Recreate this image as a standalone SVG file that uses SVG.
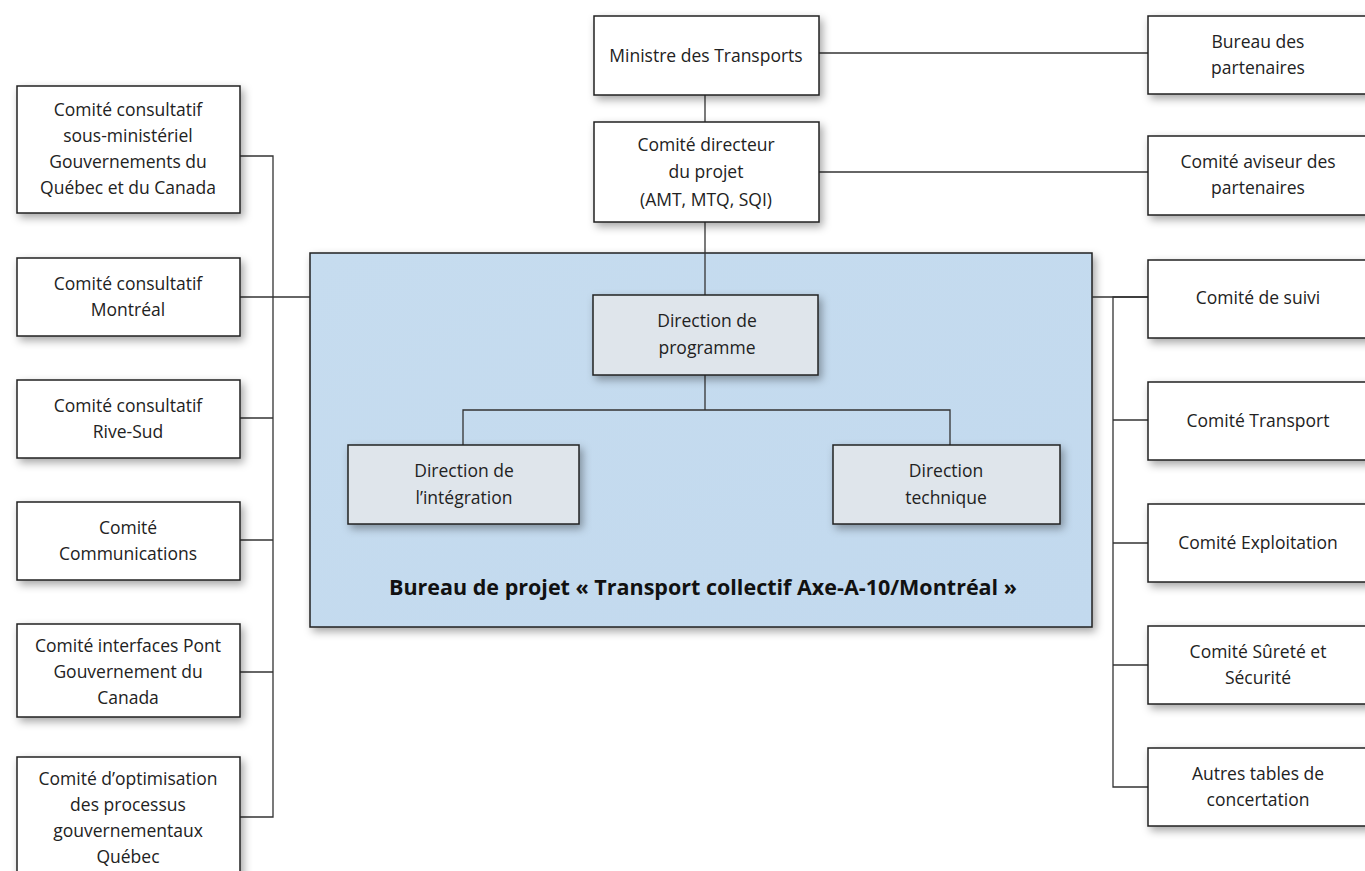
<svg xmlns="http://www.w3.org/2000/svg" width="1365" height="871" viewBox="0 0 1365 871">
<defs>
<filter id="sh" x="-10%" y="-15%" width="125%" height="140%">
<feDropShadow dx="3" dy="4" stdDeviation="4" flood-color="#000" flood-opacity="0.35"/>
</filter>
<linearGradient id="blue" x1="0" y1="0" x2="1" y2="1">
<stop offset="0" stop-color="#c6dcef"/>
<stop offset="1" stop-color="#c2d9ee"/>
</linearGradient>
</defs>
<style>
.box{fill:#fff;stroke:#222;stroke-width:1.5;filter:url(#sh)}
.inner{fill:#dfe5eb;stroke:#222;stroke-width:1.5;filter:url(#sh)}
.main{fill:url(#blue);stroke:#222;stroke-width:1.5;filter:url(#sh)}
text{font-family:"Open Sans","Liberation Sans",sans-serif;font-size:17.5px;fill:#222;text-anchor:middle}
.title{font-weight:bold;font-size:21.5px;fill:#111}
.c{fill:none;stroke:#333;stroke-width:1.3}
</style>
<rect width="1365" height="871" fill="#fff"/>

<g id="bureau-projet">
<rect class="main" x="310" y="253" width="782" height="374"/>
<text class="title" x="703" y="595">Bureau de projet « Transport collectif Axe-A-10/Montréal »</text>
</g>

<g id="connectors">
<line class="c" x1="705" y1="95" x2="705" y2="122"/>
<line class="c" x1="819" y1="53" x2="1148" y2="53"/>
<line class="c" x1="819" y1="172" x2="1148" y2="172"/>
<line class="c" x1="705" y1="222" x2="705" y2="295"/>
<line class="c" x1="705" y1="375" x2="705" y2="410"/>
<polyline class="c" points="463,445 463,410 950,410 950,445"/>
<polyline class="c" points="240,156 273,156 273,817 240,817"/>
<line class="c" x1="240" y1="297" x2="310" y2="297"/>
<line class="c" x1="240" y1="418" x2="273" y2="418"/>
<line class="c" x1="240" y1="540" x2="273" y2="540"/>
<line class="c" x1="240" y1="672" x2="273" y2="672"/>
<line class="c" x1="1092" y1="297" x2="1148" y2="297"/>
<polyline class="c" points="1148,297 1113,297 1113,787 1148,787"/>
<line class="c" x1="1113" y1="420" x2="1148" y2="420"/>
<line class="c" x1="1113" y1="543" x2="1148" y2="543"/>
<line class="c" x1="1113" y1="665" x2="1148" y2="665"/>
</g>

<g id="ministre">
<rect class="box" x="594" y="16" width="225" height="79"/>
<text x="706" y="62">Ministre des Transports</text>
</g>
<g id="comite-directeur">
<rect class="box" x="594" y="122" width="225" height="100"/>
<text x="706" y="151">Comité directeur</text>
<text x="706" y="178">du projet</text>
<text x="706" y="206">(AMT, MTQ, SQI)</text>
</g>

<g id="direction-programme">
<rect class="inner" x="593" y="295" width="225" height="80"/>
<text x="707" y="327">Direction de</text>
<text x="707" y="354">programme</text>
</g>
<g id="direction-integration">
<rect class="inner" x="348" y="445" width="231" height="79"/>
<text x="464" y="477">Direction de</text>
<text x="464" y="504">l’intégration</text>
</g>
<g id="direction-technique">
<rect class="inner" x="833" y="445" width="227" height="79"/>
<text x="946" y="477">Direction</text>
<text x="946" y="504">technique</text>
</g>

<g id="cc-sous-ministeriel">
<rect class="box" x="17" y="86" width="223" height="127"/>
<text x="128" y="116">Comité consultatif</text>
<text x="128" y="142">sous-ministériel</text>
<text x="128" y="168">Gouvernements du</text>
<text x="128" y="194">Québec et du Canada</text>
</g>
<g id="cc-montreal">
<rect class="box" x="17" y="258" width="223" height="78"/>
<text x="128" y="290">Comité consultatif</text>
<text x="128" y="316">Montréal</text>
</g>
<g id="cc-rive-sud">
<rect class="box" x="17" y="380" width="223" height="78"/>
<text x="128" y="412">Comité consultatif</text>
<text x="128" y="438">Rive-Sud</text>
</g>
<g id="c-communications">
<rect class="box" x="17" y="502" width="223" height="78"/>
<text x="128" y="534">Comité</text>
<text x="128" y="560">Communications</text>
</g>
<g id="c-interfaces-pont">
<rect class="box" x="17" y="624" width="223" height="93"/>
<text x="128" y="652">Comité interfaces Pont</text>
<text x="128" y="678">Gouvernement du</text>
<text x="128" y="704">Canada</text>
</g>
<g id="c-optimisation">
<rect class="box" x="17" y="757" width="223" height="124"/>
<text x="128" y="785">Comité d’optimisation</text>
<text x="128" y="811">des processus</text>
<text x="128" y="837">gouvernementaux</text>
<text x="128" y="863">Québec</text>
</g>

<g id="bureau-partenaires">
<rect class="box" x="1148" y="16" width="230" height="78"/>
<text x="1258" y="48">Bureau des</text>
<text x="1258" y="74">partenaires</text>
</g>
<g id="comite-aviseur">
<rect class="box" x="1148" y="136" width="230" height="79"/>
<text x="1258" y="168">Comité aviseur des</text>
<text x="1258" y="194">partenaires</text>
</g>
<g id="comite-suivi">
<rect class="box" x="1148" y="260" width="230" height="78"/>
<text x="1258" y="304">Comité de suivi</text>
</g>
<g id="comite-transport">
<rect class="box" x="1148" y="382" width="230" height="78"/>
<text x="1258" y="427">Comité Transport</text>
</g>
<g id="comite-exploitation">
<rect class="box" x="1148" y="504" width="230" height="78"/>
<text x="1258" y="549">Comité Exploitation</text>
</g>
<g id="comite-surete">
<rect class="box" x="1148" y="626" width="230" height="78"/>
<text x="1258" y="658">Comité Sûreté et</text>
<text x="1258" y="684">Sécurité</text>
</g>
<g id="autres-tables">
<rect class="box" x="1148" y="748" width="230" height="78"/>
<text x="1258" y="780">Autres tables de</text>
<text x="1258" y="806">concertation</text>
</g>
</svg>
